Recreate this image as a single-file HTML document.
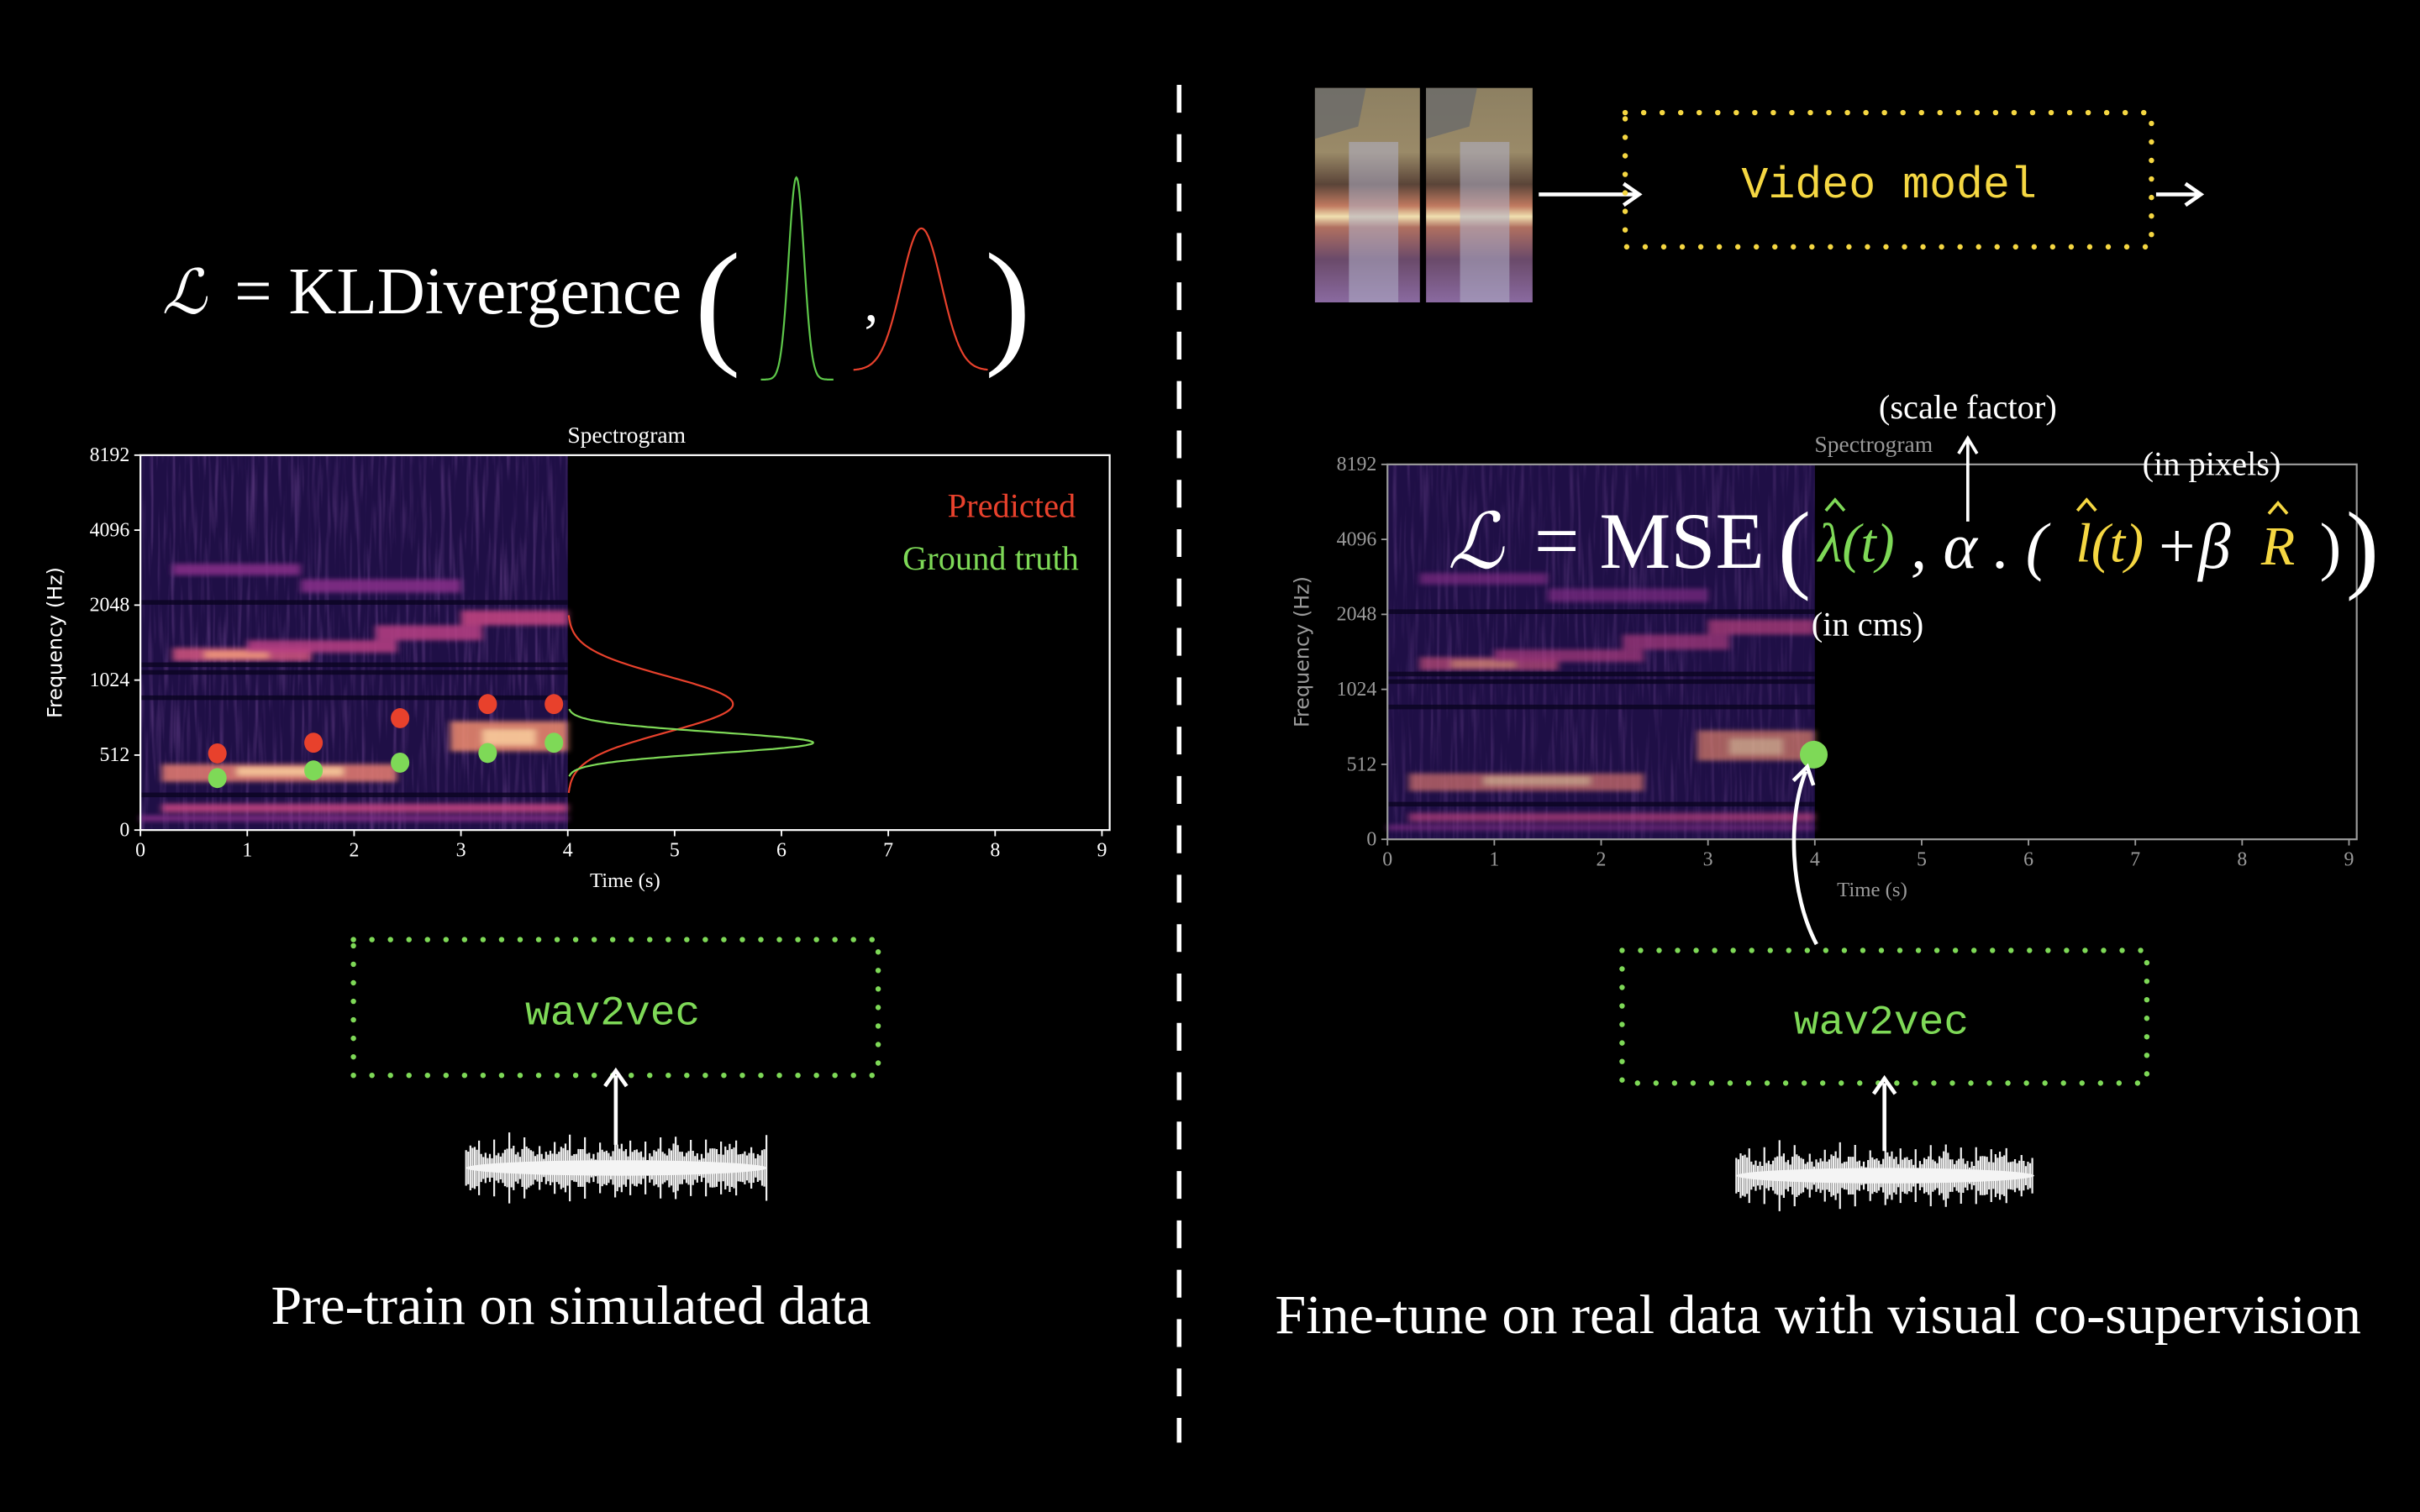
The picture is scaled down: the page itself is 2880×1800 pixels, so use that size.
<!DOCTYPE html>
<html><head><meta charset="utf-8"><style>
html,body{margin:0;padding:0;background:#000;width:2880px;height:1800px;overflow:hidden}
svg{display:block}
text{font-family:"Liberation Serif",serif}
.mono{font-family:"Liberation Mono",monospace}
</style></head><body>
<svg id="root" width="2880" height="1800" viewBox="0 0 1568 980" xmlns="http://www.w3.org/2000/svg">
<defs>
<linearGradient id="vid" x1="0" y1="0" x2="0" y2="1">
<stop offset="0" stop-color="#8d8062"/><stop offset="0.3" stop-color="#9a8a68"/><stop offset="0.45" stop-color="#5a4438"/><stop offset="0.55" stop-color="#c07a60"/><stop offset="0.6" stop-color="#f0e0b0"/><stop offset="0.65" stop-color="#b07060"/><stop offset="0.8" stop-color="#6a4a6a"/><stop offset="1" stop-color="#8a6aa0"/>
</linearGradient>
<filter id="streaks" x="0" y="0" width="1" height="1">
<feTurbulence type="fractalNoise" baseFrequency="0.35 0.02" numOctaves="2" seed="4"/>
<feColorMatrix type="matrix" values="0 0 0 0 0.55  0 0 0 0 0.22  0 0 0 0 0.75  0 0 0 1.6 -0.75"/>
</filter>
<filter id="soft" x="-10%" y="-50%" width="120%" height="200%"><feGaussianBlur stdDeviation="2.2 1.5"/></filter>
</defs>
<rect width="1568" height="980" fill="#000"/>
<line x1="764" y1="55" x2="764" y2="935" stroke="#fff" stroke-width="3" stroke-dasharray="18 14"/>

<g>
<text x="105" y="203" font-size="40" fill="#fff" font-style="italic">ℒ</text>
<text x="152" y="203" font-size="43" fill="#fff">= KLDivergence</text>
<text x="450" y="226" font-size="90" fill="#fff">(</text>
<text x="638" y="226" font-size="90" fill="#fff">)</text>
<text x="560" y="208" font-size="36" fill="#fff">,</text>
<path id="gtPeak" fill="none" stroke="#5ec84a" stroke-width="1.2"/>
<path id="prPeak" fill="none" stroke="#e8412c" stroke-width="1.2"/>
</g>

<g id="leftChart"></g>
<g id="rightChart"></g>

<rect x="229" y="609" width="340" height="88" fill="none" stroke="#7ed957" stroke-width="3.5" stroke-linecap="round" stroke-dasharray="0 12"/>
<text class="mono" x="397" y="664" font-size="27" fill="#7ed957" text-anchor="middle">wav2vec</text>
<g id="waveL"></g>
<line x1="399" y1="742" x2="399" y2="697" stroke="#fff" stroke-width="2.5"/>
<path d="M392 704 L399 694 L406 704" fill="none" stroke="#fff" stroke-width="2.5"/>
<text x="370" y="858" font-size="36" fill="#fff" text-anchor="middle">Pre-train on simulated data</text>

<g>
<rect x="852" y="57" width="68" height="139" fill="url(#vid)"/>
<rect x="924" y="57" width="69" height="139" fill="url(#vid)"/>
<rect x="874" y="92" width="32" height="104" fill="#b0b0c8" opacity="0.55"/>
<rect x="946" y="92" width="32" height="104" fill="#b0b0c8" opacity="0.55"/>
<path d="M852 57 L885 57 L880 82 L852 90Z M924 57 L957 57 L952 82 L924 90Z" fill="#6a6a6a" opacity="0.8"/>
</g>
<line x1="997" y1="126" x2="1060" y2="126" stroke="#fff" stroke-width="2.5"/>
<path d="M1052 119 L1062 126 L1052 133" fill="none" stroke="#fff" stroke-width="2.5"/>
<rect x="1053" y="73" width="341" height="87" fill="none" stroke="#f5d742" stroke-width="3.5" stroke-linecap="round" stroke-dasharray="0 12"/>
<text class="mono" x="1224" y="128" font-size="29" fill="#f5d742" text-anchor="middle">Video model</text>
<line x1="1397" y1="126" x2="1424" y2="126" stroke="#fff" stroke-width="2.5"/>
<path d="M1416 119 L1426 126 L1416 133" fill="none" stroke="#fff" stroke-width="2.5"/>

<rect x="1051" y="616" width="340" height="86" fill="none" stroke="#7ed957" stroke-width="3.5" stroke-linecap="round" stroke-dasharray="0 12"/>
<text class="mono" x="1219" y="670" font-size="27" fill="#7ed957" text-anchor="middle">wav2vec</text>
<g id="waveR"></g>
<line x1="1221" y1="746" x2="1221" y2="702" stroke="#fff" stroke-width="2.5"/>
<path d="M1214 709 L1221 699 L1228 709" fill="none" stroke="#fff" stroke-width="2.5"/>
<path d="M1177 612 C1160 580 1158 530 1170 500" fill="none" stroke="#fff" stroke-width="2.5"/>
<path d="M1162 506 L1171 497 L1175 509" fill="none" stroke="#fff" stroke-width="2.5"/>
<text x="1178" y="864" font-size="36" fill="#fff" text-anchor="middle">Fine-tune on real data with visual co-supervision</text>

<g id="mse">
<text x="1275" y="271" font-size="22" fill="#fff" text-anchor="middle">(scale factor)</text>
<line x1="1275" y1="338" x2="1275" y2="286" stroke="#fff" stroke-width="2"/>
<path d="M1269 294 L1275 284 L1281 294" fill="none" stroke="#fff" stroke-width="2"/>
<text x="1433" y="308" font-size="22" fill="#fff" text-anchor="middle">(in pixels)</text>
<text x="1210" y="412" font-size="22" fill="#fff" text-anchor="middle">(in cms)</text>
<text x="938" y="368" font-size="50" fill="#fff" font-style="italic">ℒ</text>
<text x="994" y="368" font-size="52" fill="#fff">= MSE</text>
<text x="1152" y="376" font-size="64" fill="#fff">(</text>
<text x="1178" y="364" font-size="36" fill="#7ed957" font-style="italic">λ(t)</text>
<path d="M1183 331 L1189 324 L1195 331" fill="none" stroke="#7ed957" stroke-width="2"/>
<text x="1238" y="368" font-size="42" fill="#fff" font-style="italic">, α . (</text>
<text x="1345" y="364" font-size="36" fill="#f5d742" font-style="italic">l(t)</text>
<path d="M1346 331 L1352 324 L1358 331" fill="none" stroke="#f5d742" stroke-width="2"/>
<text x="1396" y="368" font-size="42" fill="#fff" font-style="italic">+β</text>
<text x="1465" y="366" font-size="36" fill="#f5d742" font-style="italic">R</text>
<path d="M1470 333 L1476 326 L1482 333" fill="none" stroke="#f5d742" stroke-width="2"/>
<text x="1503" y="368" font-size="42" fill="#fff">)</text>
<text x="1520" y="376" font-size="64" fill="#fff">)</text>
</g>
</svg>
<script>
// ---- data ----
const gtTimes = [0.72, 1.62, 2.43, 3.25, 3.87];
const gtFreqs = [355, 407, 460, 522, 574];
const predTimes = [0.72, 1.62, 2.43, 3.25, 3.87];
const predFreqs = [520, 574, 720, 820, 820];
const rightPointTime = [3.99];
const rightPointFreq = [560];
const predDistMean = [820];
const predDistWidth = [0.37];
const gtDistMean = [574];
const gtDistWidth = [0.14];
const yTickValues = [0, 512, 1024, 2048, 4096, 8192];
const xTickValues = [0,1,2,3,4,5,6,7,8,9];
// spectrogram energy bands
const bandT0 = [0.2, 0.9, 2.9, 3.2, 0.3, 0.6, 1.0, 2.2, 3.0, 0.2, 0.0, 0.3, 1.5];
const bandT1 = [2.4, 1.9, 4.0, 3.7, 1.6, 1.2, 2.4, 3.2, 4.0, 4.0, 4.0, 1.5, 3.0];
const bandLo = [330, 370, 530, 560, 1220, 1250, 1320, 1480, 1700, 120, 60, 2700, 2300];
const bandHi = [450, 430, 700, 650, 1380, 1340, 1480, 1700, 1950, 180, 100, 3000, 2600];
const bandI  = [0.7, 0.95, 0.75, 0.95, 0.55, 0.8, 0.45, 0.45, 0.5, 0.5, 0.3, 0.3, 0.3];

const NS = 'http://www.w3.org/2000/svg';
function mk(tag, attrs, parent){const e=document.createElementNS(NS,tag);for(const k in attrs)e.setAttribute(k,attrs[k]);if(parent)parent.appendChild(e);return e;}
function colorFor(i){const c=[[40,16,80],[120,40,140],[200,70,130],[240,140,110],[250,220,170]];const p=i*(c.length-1);const a=Math.floor(p),b=Math.min(c.length-1,a+1),f=p-a;return 'rgb('+c[a].map((v,k)=>Math.round(v+(c[b][k]-v)*f)).join(',')+')';}

function buildChart(g, L, T, R, B, tMax, col, dist, extra, dim){
  const xS = t => L + t*((R-L-5)/9);
  const step=(B-T)/5;
  const yS = f => f<=512 ? B - f/512*step : B - step - Math.log2(f/512)*step;
  const sp = mk('rect',{x:L,y:T,width:xS(4)-L,height:B-T,fill:'#1f0f46'},g);
  
  
  mk('rect',{x:L,y:T,width:xS(4)-L,height:B-T,filter:'url(#streaks)',opacity:0.4*dim},g);
  const bg=mk('g',{filter:'url(#soft)',opacity:dim},g);
  for(let i=0;i<bandT0.length;i++){
    const r=mk('rect',{x:xS(bandT0[i]),y:yS(bandHi[i]),width:xS(bandT1[i])-xS(bandT0[i]),height:Math.max(2,yS(bandLo[i])-yS(bandHi[i])),fill:colorFor(bandI[i]),opacity:0.85},bg);
    
    
  }
  [2100,1180,1100,870,240].forEach(f=>{mk('rect',{x:L,y:yS(f)-1.5,width:xS(4)-L,height:3,fill:'#0a0420',opacity:0.8},g);});
  const fr=mk('rect',{x:L,y:T,width:R-L,height:B-T,fill:'none',stroke:col,'stroke-width':1.2},g);
  
  
  const tt=mk('text',{x:(L+R)/2+1,y:T-8,'font-size':15,fill:col,'text-anchor':'middle'},g);tt.textContent='Spectrogram';
  
  
  yTickValues.forEach(v=>{const y=yS(v);mk('line',{x1:L-4,y1:y,x2:L,y2:y,stroke:col},g);
    const t=mk('text',{x:L-7,y:y+4,'font-size':13,fill:col,'text-anchor':'end'},g);t.textContent=v;
    
    });
  xTickValues.forEach(v=>{const x=xS(v);mk('line',{x1:x,y1:B,x2:x,y2:B+4,stroke:col},g);
    const t=mk('text',{x:x,y:B+17,'font-size':13,fill:col,'text-anchor':'middle'},g);t.textContent=v;
    
    });
  const xl=mk('text',{x:(L+R)/2,y:B+37,'font-size':13.5,fill:col,'text-anchor':'middle'},g);xl.textContent='Time (s)';
  
  
  const yl=mk('text',{x:0,y:0,'font-size':13,fill:col,'text-anchor':'middle',style:'font-family:"DejaVu Sans",sans-serif',transform:'translate('+(L-51)+','+((T+B)/2)+') rotate(-90)'},g);yl.textContent='Frequency (Hz)';
  
  
  if(dist){
    const x0=xS(4);
    function curve(mu,w,amp,color,name){let d='';const ym=yS(mu);const s=w*step;
      for(let k=-3.2;k<=3.2;k+=0.05){const y=ym+k*s;const x=x0+amp*Math.exp(-k*k/2);d+=(d?'L':'M')+x.toFixed(1)+' '+y.toFixed(1);}
      const p=mk('path',{d:d,fill:'none',stroke:color,'stroke-width':1.2},g);
      
      }
    curve(predDistMean[0],predDistWidth[0],107,'#e8412c','predicted-distribution');
    curve(gtDistMean[0],gtDistWidth[0],159,'#7ed957','ground-truth-distribution');
    predTimes.forEach((t,i)=>{const c=mk('ellipse',{cx:xS(t),cy:yS(predFreqs[i]),rx:6,ry:6.5,fill:'#e8412c'},g);
      
      });
    gtTimes.forEach((t,i)=>{const c=mk('ellipse',{cx:xS(t),cy:yS(gtFreqs[i]),rx:6,ry:6.5,fill:'#7ed957'},g);
      
      });
    const l1=mk('text',{x:R-22,y:T+40,'font-size':22,fill:'#e8412c','text-anchor':'end'},g);l1.textContent='Predicted';
    
    
    const l2=mk('text',{x:R-20,y:T+74,'font-size':22,fill:'#7ed957','text-anchor':'end'},g);l2.textContent='Ground truth';
    
    
  }
  if(extra){
    const c=mk('ellipse',{cx:xS(rightPointTime[0]),cy:yS(rightPointFreq[0]),rx:9,ry:9,fill:'#7ed957'},g);
    
    
  }
}
buildChart(document.getElementById('leftChart'),91,295,719,538,9,'#ffffff',true,false,1);
buildChart(document.getElementById('rightChart'),899,301,1527,544,9,'#9a9a9a',false,true,0.75);

(function(){
  function peak(id,x0,x1,xc,top,base,s){let d='';for(let x=x0;x<=x1;x+=0.5){const y=base-(base-top)*Math.exp(-((x-xc)*(x-xc))/(2*s*s));d+=(d?'L':'M')+x+' '+y.toFixed(1);}document.getElementById(id).setAttribute('d',d);}
  peak('gtPeak',493,540,516,115,246,5);
  peak('prPeak',553,640,597,148,240,13);
})();

function wave(id,x0,x1,yc){const g=document.getElementById(id);let d='';let i=0;
  for(let x=x0;x<=x1;x+=1.4){i++;const a=5+7*Math.abs(Math.sin(i*0.37)*Math.cos(i*0.13))+4*Math.abs(Math.sin(i*1.7))+(i%7===0?8:0);d+='M'+x.toFixed(1)+' '+(yc-a).toFixed(1)+'L'+x.toFixed(1)+' '+(yc+a).toFixed(1);}
  mk('path',{d:d,stroke:'#f0f0f0','stroke-width':1.2,fill:'none'},g);
  mk('ellipse',{cx:(x0+x1)/2,cy:yc,rx:(x1-x0)/2,ry:5,fill:'#f4f4f4'},g);}
wave('waveL',302,497,757);
wave('waveR',1125,1318,762);
const root=document.getElementById('root');root.appendChild(document.getElementById('mse'));
</script>
</body></html>
